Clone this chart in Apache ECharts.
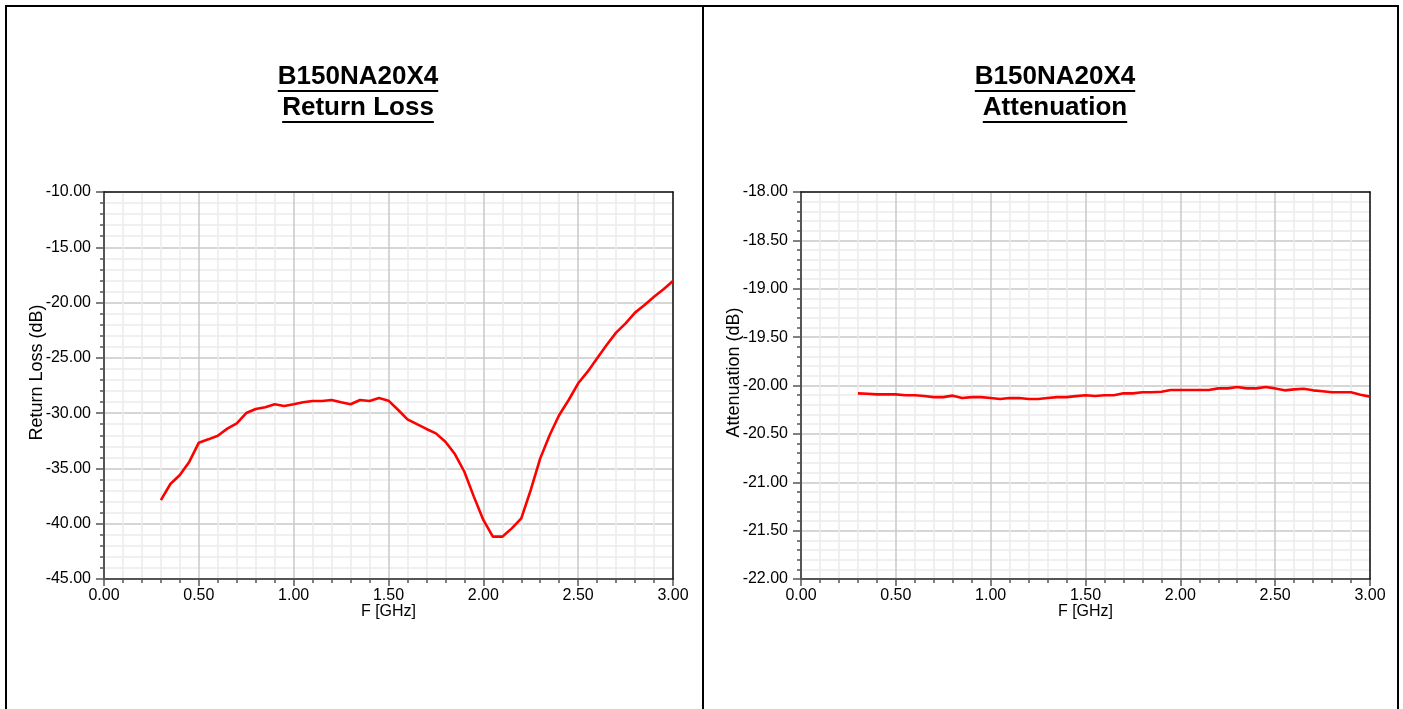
<!DOCTYPE html>
<html>
<head>
<meta charset="utf-8">
<script src="https://cdn.jsdelivr.net/npm/echarts@6/dist/echarts.min.js"></script>
<style>
html,body{margin:0;padding:0;background:#fff;}
#chart{width:1403px;height:709px;}
</style>
</head>
<body>
<div id="chart"></div>
<script>
// ---- data ----
const freq = [0.30,0.35,0.40,0.45,0.50,0.55,0.60,0.65,0.70,0.75,0.80,0.85,0.90,0.95,1.00,1.05,1.10,1.15,1.20,1.25,1.30,1.35,1.40,1.45,1.50,1.55,1.60,1.65,1.70,1.75,1.80,1.85,1.90,1.95,2.00,2.05,2.10,2.15,2.20,2.25,2.30,2.35,2.40,2.45,2.50,2.55,2.60,2.65,2.70,2.75,2.80,2.85,2.90,2.95,3.00];
const returnLoss = [-37.86,-36.41,-35.6,-34.39,-32.67,-32.37,-32.04,-31.4,-30.92,-29.99,-29.63,-29.47,-29.2,-29.35,-29.2,-29.02,-28.9,-28.9,-28.81,-29.02,-29.2,-28.81,-28.9,-28.63,-28.87,-29.69,-30.56,-31.0,-31.43,-31.83,-32.58,-33.7,-35.3,-37.55,-39.66,-41.17,-41.17,-40.42,-39.52,-36.95,-34.09,-31.98,-30.17,-28.81,-27.3,-26.25,-25.04,-23.84,-22.72,-21.88,-20.91,-20.22,-19.47,-18.8,-18.05];
const attenuation = [-20.081,-20.085,-20.092,-20.092,-20.092,-20.10,-20.10,-20.109,-20.12,-20.12,-20.105,-20.13,-20.12,-20.12,-20.13,-20.14,-20.13,-20.13,-20.14,-20.14,-20.13,-20.12,-20.12,-20.11,-20.10,-20.109,-20.10,-20.10,-20.081,-20.081,-20.07,-20.07,-20.064,-20.047,-20.047,-20.047,-20.047,-20.047,-20.03,-20.03,-20.016,-20.03,-20.03,-20.016,-20.03,-20.05,-20.04,-20.033,-20.05,-20.06,-20.07,-20.07,-20.07,-20.095,-20.115];
const titleLeft = ['B150NA20X4', 'Return Loss'];
const titleRight = ['B150NA20X4', 'Attenuation'];
const xName = 'F [GHz]';
const yNameLeft = 'Return Loss (dB)';
const yNameRight = 'Attenuation (dB)';

const FONT = '"Liberation Sans", Arial, Helvetica, sans-serif';
const chart = echarts.init(document.getElementById('chart'));

const measure = (() => {
  const c = document.createElement('canvas').getContext('2d');
  return (t, f) => { c.font = f; return c.measureText(t).width; };
})();

function pairs(xs, ys) { return xs.map((x, i) => [x, ys[i]]); }

function xAxisDef(gi) {
  return {
    type: 'value', gridIndex: gi, min: 0, max: 3, interval: 0.5,
    name: xName, nameLocation: 'middle', nameGap: 25, nameMoveOverlap: false,
    nameTextStyle: { color: '#000', fontSize: 16, fontFamily: FONT },
    axisLine: { show: true, lineStyle: { color: '#555', width: 2 } },
    axisTick: { show: true, length: 7, lineStyle: { color: '#555', width: 1.5 } },
    minorTick: { show: true, splitNumber: 5, length: 4, lineStyle: { color: '#555', width: 1.5 } },
    splitLine: { show: true, lineStyle: { color: '#c8c8c8', width: 1.5 } },
    minorSplitLine: { show: true, lineStyle: { color: '#ececec', width: 1.5 } },
    axisLabel: { color: '#000', fontSize: 16, fontFamily: FONT, margin: 9, showMinLabel: true, showMaxLabel: true,
      formatter: v => v.toFixed(2) }
  };
}
function yAxisDef(gi, min, max, interval, name) {
  return {
    type: 'value', gridIndex: gi, min: min, max: max, interval: interval,
    name: name, nameLocation: 'middle', nameGap: 58, nameMoveOverlap: false,
    nameTextStyle: { color: '#000', fontSize: 18, fontFamily: FONT, padding: [0, 0, 0, 26] },
    axisLine: { show: true, lineStyle: { color: '#555', width: 2 } },
    axisTick: { show: true, length: 8, lineStyle: { color: '#555', width: 1.5 } },
    minorTick: { show: true, splitNumber: 5, length: 4, lineStyle: { color: '#555', width: 1.5 } },
    splitLine: { show: true, lineStyle: { color: '#c8c8c8', width: 1.5 } },
    minorSplitLine: { show: true, lineStyle: { color: '#ececec', width: 1.5 } },
    axisLabel: { color: '#000', fontSize: 16, fontFamily: FONT, margin: 13, showMinLabel: true, showMaxLabel: true,
      formatter: v => v.toFixed(2) }
  };
}
// frame axes (top / right), black line only
function frameX(gi) {
  return { type: 'value', gridIndex: gi, position: 'top', min: 0, max: 3, z: 5,
    axisLine: { show: true, onZero: false, lineStyle: { color: '#111', width: 1.5 } },
    axisTick: { show: false }, axisLabel: { show: false }, splitLine: { show: false } };
}
function frameY(gi, min, max) {
  return { type: 'value', gridIndex: gi, position: 'right', min: min, max: max, z: 5,
    axisLine: { show: true, onZero: false, lineStyle: { color: '#111', width: 1.5 } },
    axisTick: { show: false }, axisLabel: { show: false }, splitLine: { show: false } };
}

const TFONT = 'bold 26px ' + FONT;
function titleGraphics(cx, lines) {
  const ys = [77, 108];
  const uy = [90, 121];
  const out = [];
  lines.forEach((t, i) => {
    out.push({ type: 'text', x: cx, y: ys[i], style: { text: t, font: TFONT, fill: '#000',
      textAlign: 'center', textVerticalAlign: 'middle', align: 'center', verticalAlign: 'middle' } });
    const w = measure(t, TFONT);
    out.push({ type: 'rect', shape: { x: cx - w / 2, y: uy[i], width: w, height: 2 }, style: { fill: '#000' } });
  });
  return out;
}

const option = {
  backgroundColor: '#fff',
  animation: false,
  grid: [
    { left: 104, top: 192, width: 569, height: 387, show: false },
    { left: 801, top: 192, width: 569, height: 387, show: false }
  ],
  xAxis: [xAxisDef(0), xAxisDef(1), frameX(0), frameX(1)],
  yAxis: [yAxisDef(0, -45, -10, 5, yNameLeft), yAxisDef(1, -22, -18, 0.5, yNameRight), frameY(0, -45, -10), frameY(1, -22, -18)],
  series: [
    { type: 'line', xAxisIndex: 0, yAxisIndex: 0, data: pairs(freq, returnLoss), showSymbol: false, symbol: 'none', z: 10,
      lineStyle: { color: '#ff0000', width: 2.6 }, itemStyle: { color: '#ff0000' } },
    { type: 'line', xAxisIndex: 1, yAxisIndex: 1, data: pairs(freq, attenuation), showSymbol: false, symbol: 'none', z: 10,
      lineStyle: { color: '#ff0000', width: 2.6 }, itemStyle: { color: '#ff0000' } }
  ],
  graphic: [
    { type: 'rect', shape: { x: 6, y: 6, width: 1392, height: 720 }, style: { fill: 'none', stroke: '#000', lineWidth: 2 } },
    { type: 'line', shape: { x1: 703, y1: 6, x2: 703, y2: 709 }, style: { stroke: '#000', lineWidth: 2 } }
  ].concat(titleGraphics(358, titleLeft), titleGraphics(1055, titleRight))
};
chart.setOption(option);
</script>
</body>
</html>
